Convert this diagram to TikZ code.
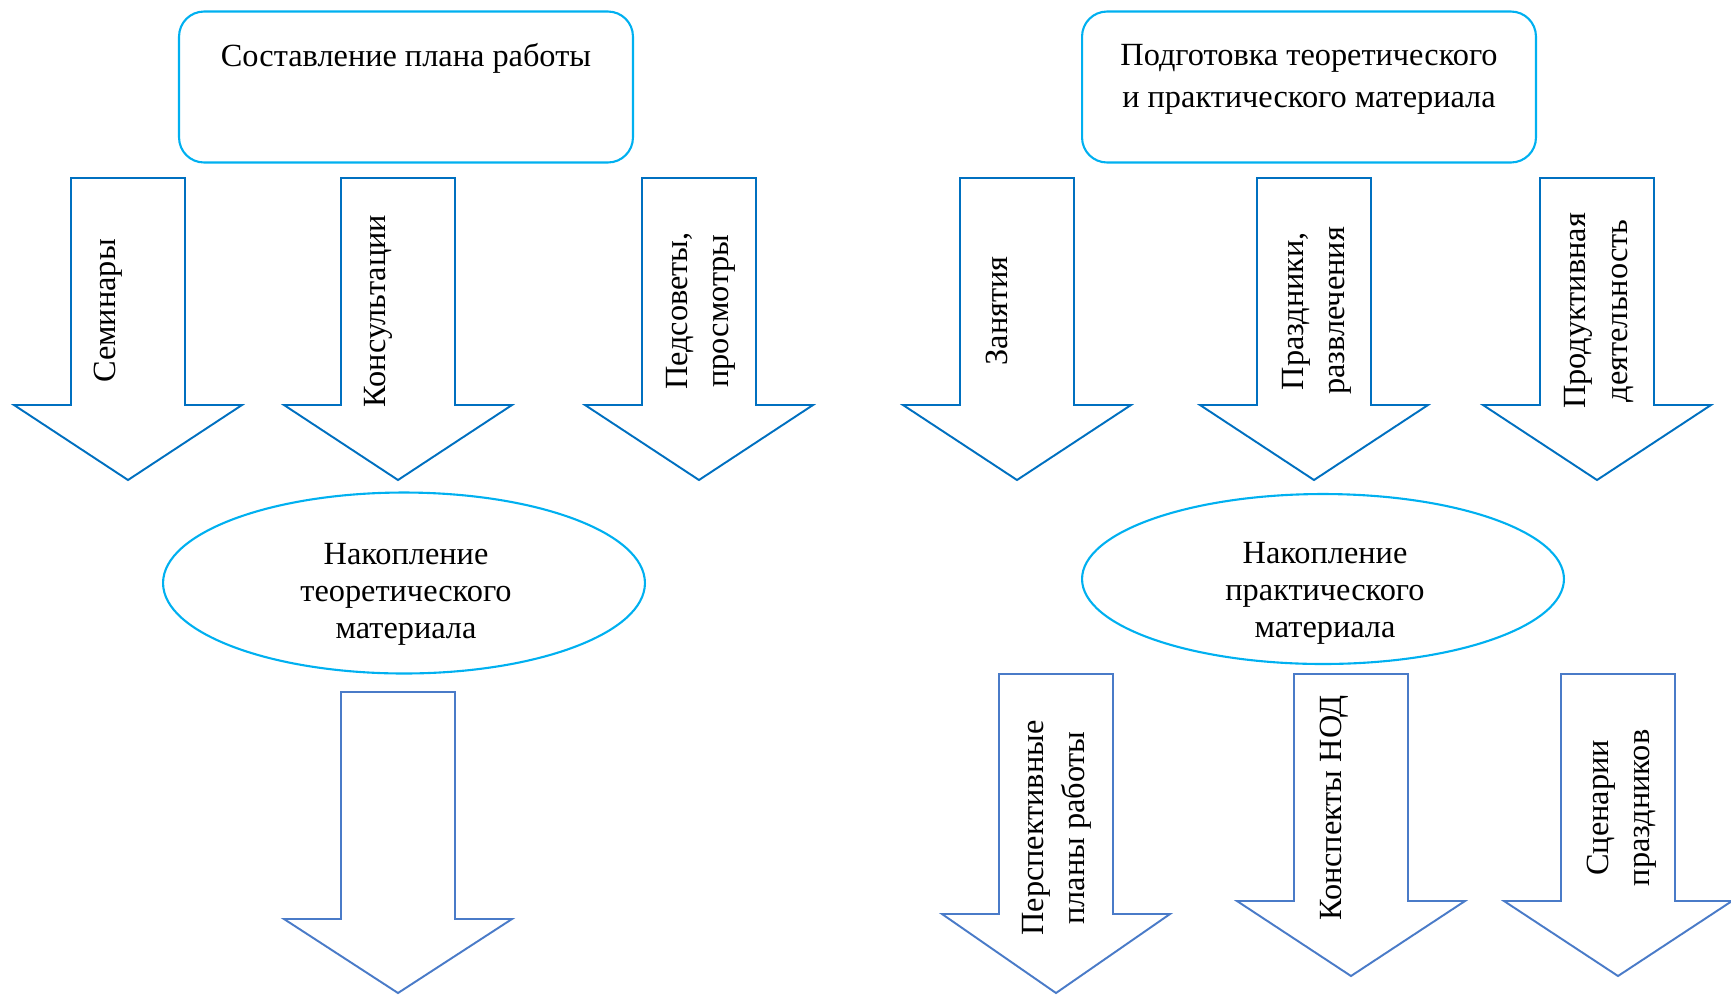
\documentclass[tikz,border=0pt]{standalone}
\usepackage{fontspec}
\setmainfont{Liberation Serif}
\usetikzlibrary{shapes.geometric}
\definecolor{boxcyan}{HTML}{00B0F0}
\definecolor{arrowblue}{HTML}{0070C0}
\definecolor{arrowsteel}{HTML}{4A7BC8}
\tikzset{
    planbox/.style = {rectangle, rounded corners=0.5cm, draw=boxcyan, line width=1.2pt, minimum width=9.08cm, minimum height=3.02cm},
    accumell/.style = {ellipse, draw=boxcyan, line width=1.2pt, minimum width=9.64cm},
    arrowtop/.style = {draw=arrowblue, line width=1.1pt},
    arrowlow/.style = {draw=arrowsteel, line width=1.1pt},
    boxtext/.style = {align=center, font=\fontsize{18.4}{24}\selectfont},
    elltext/.style = {align=center, font=\fontsize{18.4}{21}\selectfont},
    arrtext/.style = {rotate=90, align=center, font=\fontsize{18.4}{23.5}\selectfont}
}
% block arrow pointing down: style, centre x, top, wings, tip
\newcommand{\blockarrow}[5]{%
  \draw[#1] ({#2-57},{-#3}) -- ({#2+57},{-#3}) -- ({#2+57},{-#4}) -- ({#2+114},{-#4})
    -- (#2,{-#5}) -- ({#2-114},{-#4}) -- ({#2-57},{-#4}) -- cycle;}

\begin{document}
\begin{tikzpicture}[x=0.02cm, y=0.02cm]
  \useasboundingbox (0,0) rectangle (1731,-995);
  % top boxes
  \node[planbox] (plan) at (406,-87) {};
  \node[boxtext] (plantext) at (406,-58) {Составление плана работы};
  \node[planbox] (prep) at (1309,-87) {};
  \node[boxtext] (preptext) at (1309,-79) {Подготовка теоретического\\и практического материала};

  % left arrows
  \blockarrow{arrowtop}{128}{178}{405}{480}
  \blockarrow{arrowtop}{398}{178}{405}{480}
  \blockarrow{arrowtop}{699}{178}{405}{480}
  \node[arrtext] (seminar) at (108,-311) {Семинары};
  \node[arrtext] (consult) at (378,-311) {Консультации};
  \node[arrtext] (council) at (701,-311) {Педсоветы,\\просмотры};

  % right arrows
  \blockarrow{arrowtop}{1017}{178}{405}{480}
  \blockarrow{arrowtop}{1314}{178}{405}{480}
  \blockarrow{arrowtop}{1597}{178}{405}{480}
  \node[arrtext] (lesson) at (997,-311) {Занятия};
  \node[arrtext] (holiday) at (1317,-311) {Праздники,\\развлечения};
  \node[arrtext] (product) at (1599,-311) {Продуктивная\\деятельность};

  % accumulation
  \node[accumell, minimum height=3.62cm] (theory) at (404,-583) {};
  \node[elltext] (theorytext) at (406,-594) {Накопление\\теоретического\\материала};
  \node[accumell, minimum height=3.4cm] (practice) at (1323,-579) {};
  \node[elltext] (practicetext) at (1325,-593) {Накопление\\практического\\материала};

  % lower arrows
  \blockarrow{arrowlow}{398}{692}{919}{993}
  \blockarrow{arrowlow}{1056}{674}{914}{993}
  \blockarrow{arrowlow}{1351}{674}{901}{976}
  \blockarrow{arrowlow}{1618}{674}{901}{976}
  \node[arrtext] (plans) at (1057,-828) {Перспективные\\планы работы};
  \node[arrtext] (notes) at (1334,-808) {Конспекты НОД};
  \node[arrtext] (scripts) at (1622,-808) {Сценарии\\праздников};
\end{tikzpicture}
\end{document}
